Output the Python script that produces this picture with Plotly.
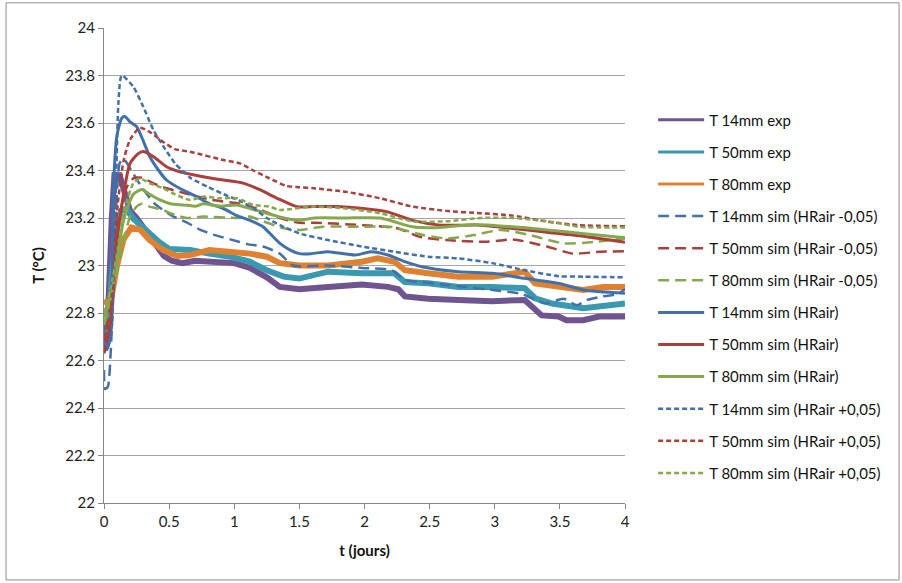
import plotly.graph_objects as go

# ---------------- data (t in days, T in °C) ----------------
t_14_exp = [0, 0.03, 0.06, 0.08, 0.12, 0.16, 0.2, 0.25, 0.3, 0.35, 0.4, 0.46, 0.52, 0.6, 0.7, 0.8, 0.9, 1.0, 1.12, 1.25, 1.35, 1.5, 1.62, 1.77, 1.98, 2.18, 2.26, 2.31, 2.49, 2.72, 2.98, 3.23, 3.28, 3.36, 3.49, 3.55, 3.68, 3.8, 4.0]
v_14_exp = [22.72, 22.78, 23.2, 23.38, 23.38, 23.3, 23.23, 23.2, 23.16, 23.13, 23.08, 23.04, 23.02, 23.01, 23.02, 23.015, 23.01, 23.01, 22.99, 22.95, 22.91, 22.90, 22.905, 22.91, 22.92, 22.91, 22.9, 22.87, 22.86, 22.855, 22.85, 22.855, 22.83, 22.79, 22.785, 22.77, 22.77, 22.785, 22.785]

t_50_exp = [0, 0.03, 0.06, 0.09, 0.13, 0.17, 0.22, 0.28, 0.35, 0.42, 0.5, 0.66, 0.81, 0.97, 1.12, 1.25, 1.38, 1.5, 1.72, 1.98, 2.23, 2.31, 2.49, 2.72, 2.98, 3.23, 3.31, 3.44, 3.68, 3.85, 4.0]
v_50_exp = [22.7, 22.72, 22.95, 23.15, 23.23, 23.24, 23.2, 23.17, 23.135, 23.1, 23.07, 23.065, 23.05, 23.037, 23.016, 22.98, 22.953, 22.945, 22.974, 22.967, 22.967, 22.93, 22.925, 22.91, 22.91, 22.904, 22.862, 22.84, 22.82, 22.83, 22.84]

t_80_exp = [0, 0.046, 0.1, 0.15, 0.21, 0.28, 0.35, 0.455, 0.56, 0.66, 0.81, 0.97, 1.12, 1.25, 1.35, 1.5, 1.72, 1.98, 2.1, 2.23, 2.31, 2.49, 2.72, 2.98, 3.13, 3.23, 3.31, 3.49, 3.68, 3.83, 4.0]
v_80_exp = [22.855, 22.83, 23.0, 23.11, 23.16, 23.15, 23.107, 23.065, 23.04, 23.044, 23.065, 23.058, 23.05, 23.037, 23.01, 23.0, 23.0, 23.016, 23.03, 23.016, 22.98, 22.967, 22.953, 22.953, 22.967, 22.974, 22.925, 22.91, 22.897, 22.91, 22.91]

t_14_m = [0, 0.008, 0.03, 0.05, 0.07, 0.09, 0.12, 0.15, 0.21, 0.29, 0.39, 0.52, 0.64, 0.74, 0.84, 0.97, 1.1, 1.22, 1.35, 1.45, 1.72, 1.98, 2.21, 2.31, 2.44, 2.6, 2.77, 2.93, 3.21, 3.31, 3.39, 3.53, 3.63, 3.71, 3.83, 3.94, 4.0]
v_14_m = [22.56, 22.48, 22.49, 22.62, 22.88, 23.2, 23.43, 23.45, 23.40, 23.33, 23.26, 23.21, 23.18, 23.15, 23.13, 23.11, 23.09, 23.08, 23.05, 23.0, 23.0, 22.99, 22.98, 22.94, 22.93, 22.92, 22.91, 22.9, 22.88, 22.855, 22.84, 22.86, 22.833, 22.855, 22.87, 22.88, 22.9]

t_50_m = [0, 0.05, 0.11, 0.175, 0.225, 0.29, 0.38, 0.48, 0.58, 0.83, 1.05, 1.2, 1.35, 1.5, 1.61, 1.99, 2.25, 2.43, 2.63, 2.94, 3.14, 3.4, 3.6, 3.81, 4.0]
v_50_m = [22.66, 22.85, 23.19, 23.33, 23.367, 23.37, 23.346, 23.325, 23.31, 23.276, 23.26, 23.235, 23.2, 23.18, 23.18, 23.17, 23.157, 23.12, 23.107, 23.10, 23.11, 23.08, 23.05, 23.058, 23.06]

t_80_m = [0, 0.05, 0.1, 0.15, 0.2, 0.25, 0.29, 0.35, 0.455, 0.507, 0.635, 0.76, 1.02, 1.12, 1.22, 1.38, 1.5, 1.68, 1.99, 2.2, 2.45, 2.63, 2.84, 3.04, 3.27, 3.53, 3.78, 4.0]
v_80_m = [22.75, 22.85, 22.98, 23.1, 23.206, 23.248, 23.26, 23.248, 23.234, 23.22, 23.2, 23.206, 23.2, 23.206, 23.186, 23.157, 23.15, 23.163, 23.163, 23.163, 23.128, 23.114, 23.128, 23.15, 23.128, 23.093, 23.1, 23.114]

t_14_0 = [0, 0.02, 0.05, 0.07, 0.1, 0.136, 0.16, 0.2, 0.25, 0.29, 0.35, 0.42, 0.48, 0.58, 0.71, 0.81, 0.916, 1.02, 1.12, 1.22, 1.35, 1.43, 1.5, 1.59, 1.72, 1.93, 2.05, 2.18, 2.31, 2.44, 2.72, 2.98, 3.23, 3.49, 3.68, 4.0]
v_14_0 = [22.66, 22.645, 22.7, 23.3, 23.55, 23.62, 23.627, 23.605, 23.585, 23.54, 23.46, 23.40, 23.36, 23.325, 23.29, 23.26, 23.24, 23.21, 23.19, 23.163, 23.093, 23.065, 23.05, 23.05, 23.058, 23.044, 23.058, 23.044, 23.016, 22.995, 22.974, 22.967, 22.946, 22.925, 22.897, 22.883]

t_50_0 = [0, 0.046, 0.1, 0.15, 0.2, 0.26, 0.3, 0.38, 0.48, 0.58, 0.635, 0.76, 0.916, 1.07, 1.2, 1.33, 1.48, 1.61, 1.79, 1.99, 2.17, 2.37, 2.58, 2.89, 3.14, 3.4, 3.65, 4.0]
v_50_0 = [22.63, 22.74, 23.09, 23.30, 23.43, 23.47, 23.48, 23.458, 23.416, 23.395, 23.388, 23.374, 23.36, 23.347, 23.318, 23.283, 23.248, 23.248, 23.248, 23.24, 23.227, 23.19, 23.17, 23.17, 23.156, 23.14, 23.125, 23.098]

t_80_0 = [0, 0.05, 0.1, 0.15, 0.225, 0.29, 0.35, 0.43, 0.51, 0.61, 0.71, 0.76, 0.89, 1.02, 1.12, 1.25, 1.38, 1.5, 1.61, 1.86, 2.12, 2.37, 2.58, 2.84, 3.14, 3.4, 3.65, 4.0]
v_80_0 = [22.78, 22.86, 23.02, 23.19, 23.30, 23.32, 23.30, 23.276, 23.26, 23.255, 23.25, 23.26, 23.25, 23.255, 23.24, 23.22, 23.2, 23.19, 23.2, 23.2, 23.2, 23.163, 23.16, 23.173, 23.163, 23.15, 23.136, 23.117]

t_14_p = [0, 0.03, 0.06, 0.084, 0.097, 0.11, 0.136, 0.225, 0.30, 0.38, 0.47, 0.545, 0.6, 0.66, 0.8, 0.92, 1.05, 1.15, 1.25, 1.35, 1.5, 1.72, 1.98, 2.23, 2.49, 2.72, 2.98, 3.23, 3.49, 3.68, 4.0]
v_14_p = [22.68, 22.66, 22.74, 23.16, 23.44, 23.68, 23.80, 23.753, 23.67, 23.57, 23.49, 23.43, 23.40, 23.37, 23.33, 23.30, 23.27, 23.24, 23.2, 23.17, 23.135, 23.107, 23.08, 23.058, 23.037, 23.03, 23.01, 22.98, 22.955, 22.953, 22.95]

t_50_p = [0, 0.04, 0.07, 0.1, 0.15, 0.2, 0.276, 0.35, 0.455, 0.545, 0.66, 0.916, 1.044, 1.147, 1.27, 1.40, 1.5, 1.61, 1.86, 2.12, 2.37, 2.63, 2.89, 3.14, 3.4, 3.65, 4.0]
v_50_p = [22.7, 22.75, 22.95, 23.23, 23.44, 23.53, 23.58, 23.563, 23.52, 23.49, 23.479, 23.444, 23.43, 23.40, 23.367, 23.335, 23.33, 23.325, 23.31, 23.283, 23.248, 23.23, 23.22, 23.21, 23.185, 23.17, 23.165]

t_80_p = [0, 0.05, 0.1, 0.15, 0.225, 0.276, 0.35, 0.455, 0.545, 0.66, 0.76, 0.89, 1.02, 1.147, 1.27, 1.35, 1.61, 1.86, 2.12, 2.37, 2.63, 2.89, 3.14, 3.4, 3.65, 4.0]
v_80_p = [22.8, 22.9, 23.05, 23.22, 23.346, 23.367, 23.346, 23.325, 23.30, 23.276, 23.29, 23.283, 23.283, 23.255, 23.248, 23.234, 23.248, 23.24, 23.22, 23.186, 23.186, 23.2, 23.20, 23.187, 23.163, 23.16]

names = ["T 14mm exp", "T 50mm exp", "T 80mm exp",
         "T 14mm sim (HRair -0,05)", "T 50mm sim (HRair -0,05)", "T 80mm sim (HRair -0,05)",
         "T 14mm sim (HRair)", "T 50mm sim (HRair)", "T 80mm sim (HRair)",
         "T 14mm sim (HRair +0,05)", "T 50mm sim (HRair +0,05)", "T 80mm sim (HRair +0,05)"]

y_ticks = [22, 22.2, 22.4, 22.6, 22.8, 23, 23.2, 23.4, 23.6, 23.8, 24]
y_ticklabels = ["22", "22.2", "22.4", "22.6", "22.8", "23", "23.2", "23.4", "23.6", "23.8", "24"]
x_ticks = [0, 0.5, 1, 1.5, 2, 2.5, 3, 3.5, 4]
x_ticklabels = ["0", "0.5", "1", "1.5", "2", "2.5", "3", "3.5", "4"]

# ---------------- styles ----------------
PURPLE = "#70548F"
AQUA = "#3A98B0"
ORANGE = "#DE8232"
BLUE = "#4170AA"
RED = "#AA3F3C"
GREEN = "#86A84C"

# (t, v, colour, dash, plot width, legend width, shape)
series = [
    (t_14_exp, v_14_exp, PURPLE, "solid", 6, 3, "linear"),
    (t_50_exp, v_50_exp, AQUA, "solid", 6, 3, "linear"),
    (t_80_exp, v_80_exp, ORANGE, "solid", 6, 3, "linear"),
    (t_14_m, v_14_m, BLUE, "11px,6px", 2.5, 2.5, "spline"),
    (t_50_m, v_50_m, RED, "11px,6px", 2.5, 2.5, "spline"),
    (t_80_m, v_80_m, GREEN, "11px,6px", 2.5, 2.5, "spline"),
    (t_14_0, v_14_0, BLUE, "solid", 3, 3, "spline"),
    (t_50_0, v_50_0, RED, "solid", 3, 3, "spline"),
    (t_80_0, v_80_0, GREEN, "solid", 3, 3, "spline"),
    (t_14_p, v_14_p, BLUE, "5px,3px", 2.5, 2.5, "spline"),
    (t_50_p, v_50_p, RED, "5px,3px", 2.5, 2.5, "spline"),
    (t_80_p, v_80_p, GREEN, "5px,3px", 2.5, 2.5, "spline"),
]

FONT = "Lato, 'Open Sans', sans-serif"

fig = go.Figure()
for i, (tx, vy, col, dash, w, lw, shape) in enumerate(series):
    sep_legend = (w != lw)
    fig.add_trace(go.Scatter(
        x=tx, y=vy, mode="lines", name=names[i],
        legendgroup=f"g{i}", showlegend=not sep_legend,
        line=dict(color=col, width=w, dash=dash, shape=shape,
                  smoothing=0.6 if shape == "spline" else None),
    ))
    if sep_legend:
        # legend swatch only (thinner line, like the original legend)
        fig.add_trace(go.Scatter(
            x=[None], y=[None], mode="lines", name=names[i],
            legendgroup=f"g{i}", showlegend=True,
            line=dict(color=col, width=lw, dash=dash),
        ))

fig.update_layout(
    width=902, height=583,
    margin=dict(l=104, r=277, t=28, b=80),
    paper_bgcolor="white", plot_bgcolor="white",
    font=dict(family=FONT, size=15, color="#222222"),
    showlegend=True,
    legend=dict(x=1.054, y=0.841, xanchor="left", yanchor="top",
                font=dict(family=FONT, size=15, color="#111111"),
                tracegroupgap=9.6, traceorder="grouped", itemwidth=46,
                bgcolor="rgba(0,0,0,0)"),
    xaxis=dict(range=[0, 4], tickvals=x_ticks, ticktext=x_ticklabels,
               showgrid=False, zeroline=False,
               showline=True, linecolor="#868686", linewidth=1,
               ticks="outside", ticklen=5, tickcolor="#868686",
               tickfont=dict(size=15, color="#222222"),
               title=dict(text="<b>t (jours)</b>", font=dict(size=15, color="#111111"), standoff=16)),
    yaxis=dict(range=[22, 24], tickvals=y_ticks, ticktext=y_ticklabels,
               showgrid=True, gridcolor="#A6A6A6", gridwidth=1, zeroline=False,
               showline=True, linecolor="#868686", linewidth=1,
               ticks="outside", ticklen=5, tickcolor="#868686",
               tickfont=dict(size=15, color="#222222"),
               title=dict(text="<b>T (°C)</b>", font=dict(size=15, color="#111111"), standoff=17)),
    shapes=[dict(type="rect", xref="paper", yref="paper",
                 x0=-0.188, x1=1.526, y0=-0.162, y1=1.053,
                 line=dict(color="#8C8C8C", width=1), fillcolor="rgba(0,0,0,0)", layer="below")],
)

fig.write_html("out.html", config={"displayModeBar": False},
               post_script="document.body.style.margin='0';")
